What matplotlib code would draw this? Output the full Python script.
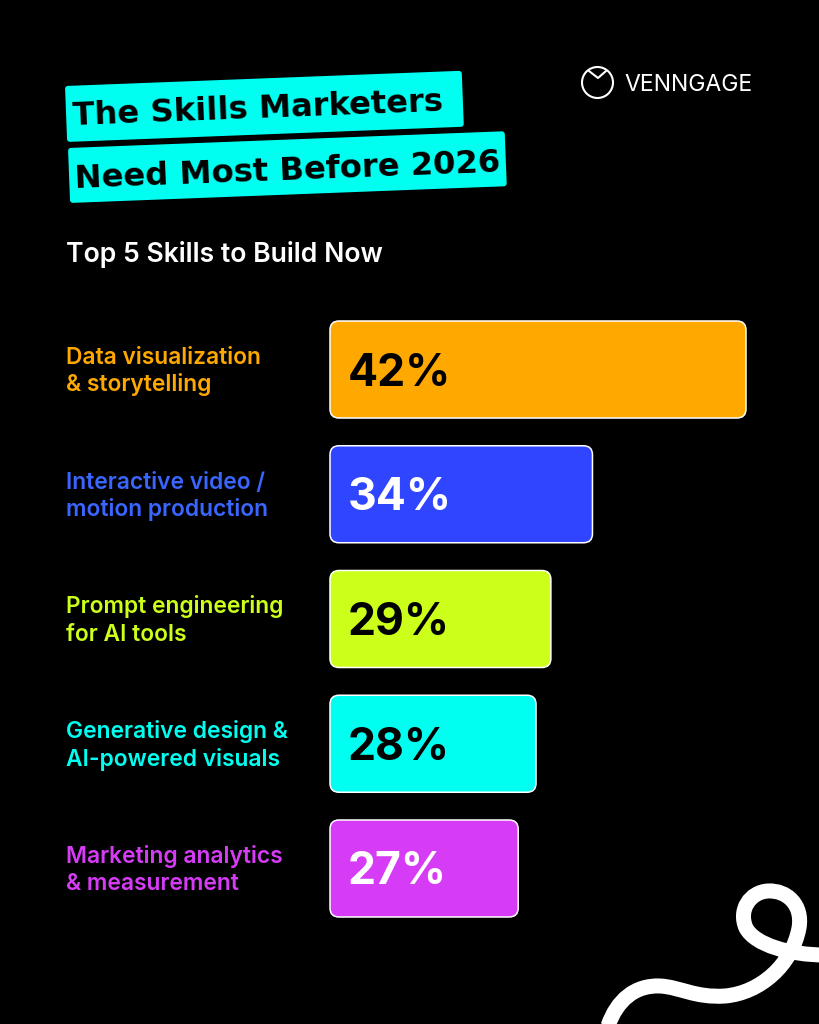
import matplotlib
matplotlib.use('Agg')
import matplotlib.pyplot as plt
from matplotlib.patches import FancyBboxPatch, PathPatch, Circle
from matplotlib.path import Path
from matplotlib.transforms import Affine2D

# Chart data
skills = ['Data visualization\n& storytelling', 'Interactive video /\nmotion production',
          'Prompt engineering\nfor AI tools', 'Generative design &\nAI-powered visuals',
          'Marketing analytics\n& measurement']
percent_labels = ['42%', '34%', '29%', '28%', '27%']
# the bars in the picture are not proportional to their labels, these are the drawn lengths
drawn_lengths = [42.0, 26.5, 22.3, 20.8, 19.0]
bar_colors = ['#FFA800', '#3045FF', '#CCFF1A', '#00FFF0', '#D63CF5']
label_colors = ['#FFA800', '#3A66FF', '#CCFF1A', '#00FFF0', '#D63CF5']
value_colors = ['black', 'white', 'black', 'black', 'white']

W, H = 819, 1024
FONT = 'Inter'


def pt(px):
    return px * 0.72


fig = plt.figure(figsize=(W / 100, H / 100), dpi=100, facecolor='black')

# Overlay in pixel coordinates for title, logo and swirl
bg = fig.add_axes([0, 0, 1, 1])
bg.set_xlim(0, W)
bg.set_ylim(H, 0)
bg.axis('off')

# Title highlights
title_lines = ['The Skills Marketers', 'Need Most Before 2026']
boxes = [(65, 86, 397, 56, 73, 125), (68, 148, 437, 55, 75, 187.5)]
angle = -2.2
for line, (x, y, w, h, tx, ty) in zip(title_lines, boxes):
    tr = Affine2D().rotate_deg_around(x, y, angle) + bg.transData
    bg.add_patch(FancyBboxPatch((x, y), w, h, boxstyle='round,pad=0,rounding_size=3',
                                fc='#00FFF0', ec='none', transform=tr))
    bg.text(tx, ty, line, fontsize=pt(32.3), fontweight='bold', color='black', family='DejaVu Sans',
            rotation=-angle, rotation_mode='anchor', ha='left', va='baseline')

bg.text(66, 262, 'Top 5 Skills to Build Now', fontsize=pt(26.6), fontweight='semibold',
        color='white', family=FONT, ha='left', va='baseline')

# Logo
bg.add_patch(Circle((597.5, 82.5), 15.5, fc='none', ec='white', lw=1.5))
bg.plot([589, 598, 606], [71, 78, 71], color='white', lw=1.5)
bg.text(624.5, 91, 'VENNGAGE', fontsize=pt(23), color='white', family=FONT,
        ha='left', va='baseline')

# Swirl in the corner
verts = [(608, 1026), (617, 1000), (635, 985), (660, 986),
         (680, 987), (695, 998), (725, 996),
         (760, 993), (792, 965), (799, 928),
         (803, 905), (787, 890), (768, 891),
         (750, 892), (738, 910), (746, 928),
         (755, 945), (790, 955), (825, 955)]
codes = [Path.MOVETO] + [Path.CURVE4] * (len(verts) - 1)
bg.add_patch(PathPatch(Path(verts, codes), fc='none', ec='white', lw=pt(15), capstyle='butt'))

# Bars: axes spans exactly the plotted region
x0, x1 = 330, 746
top, step, bar_h = 321, 124.75, 97
ax_top = top + bar_h / 2 - step / 2
ax_bottom = ax_top + step * len(skills)
ax = fig.add_axes([x0 / W, 1 - ax_bottom / H, (x1 - x0) / W, (ax_bottom - ax_top) / H])
ax.set_xlim(0, drawn_lengths[0])
ax.set_ylim(len(skills) - 0.5, -0.5)
ax.axis('off')
ax.patch.set_alpha(0)

px_x = drawn_lengths[0] / (x1 - x0)
px_y = 1 / step
height = bar_h * px_y
for i, (length, color) in enumerate(zip(drawn_lengths, bar_colors)):
    ax.add_patch(FancyBboxPatch((0, i - height / 2), length, height,
                                boxstyle=f'round,pad=0,rounding_size={9 * px_x}',
                                mutation_aspect=px_y / px_x,
                                fc=color, ec='white', lw=1.1, clip_on=False))
    ax.text(18 * px_x, i + 4 * px_y, percent_labels[i], fontsize=pt(44.5), fontweight='bold',
            color=value_colors[i], family=FONT, ha='left', va='center')
    first, second = skills[i].split('\n')
    y_mid = top + bar_h / 2 + i * step
    bg.text(66, y_mid - 5.5, first, fontsize=pt(22.8), fontweight='semibold', color=label_colors[i],
            family=FONT, ha='left', va='baseline')
    bg.text(66, y_mid + 22, second, fontsize=pt(22.8), fontweight='semibold', color=label_colors[i],
            family=FONT, ha='left', va='baseline')

fig.savefig('out.png', dpi=100, facecolor='black')
